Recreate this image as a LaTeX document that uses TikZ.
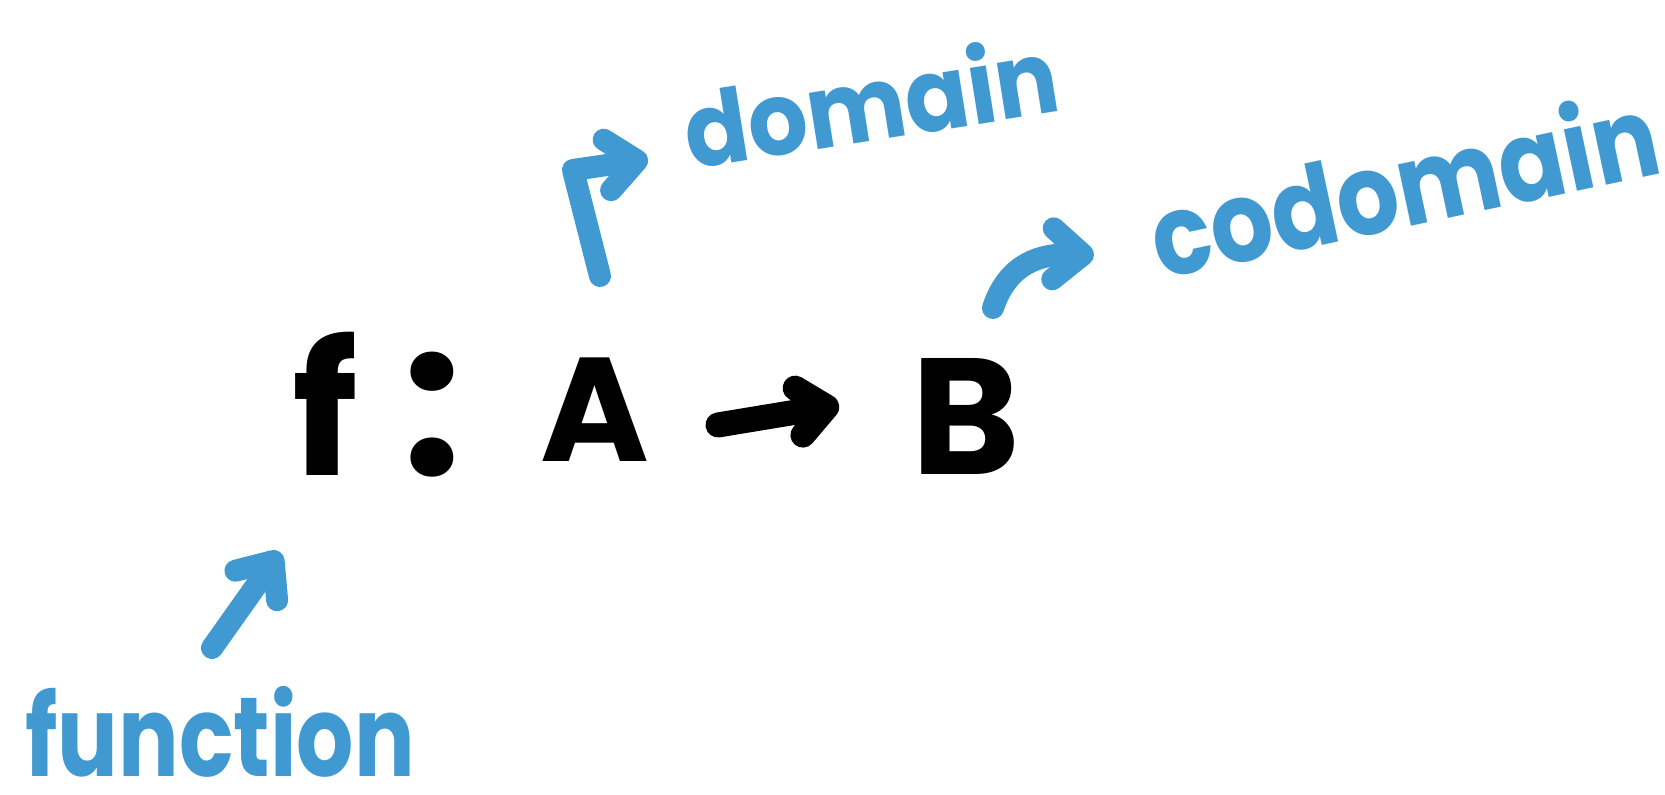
\documentclass[tikz,border=0pt]{standalone}
\usepackage{fontspec}
\usetikzlibrary{arrows.meta}
\newfontfamily\hand{Poppins}[UprightFont={* Bold}]
\definecolor{marker}{RGB}{65,153,210}

\begin{document}
\begin{tikzpicture}[x=0.01cm, y=-0.01cm,
  ink/.style={inner sep=0pt, text=black},
  note/.style={inner sep=0pt, text=marker},
  pen/.style={line width=0.25cm, line cap=round, line join=round},
  barb/.style={-{Straight Barb[length=#1, width=1.7*#1, round]}},
  bluepen/.style={pen, draw=marker, line width=0.22cm, barb=0.3cm},
]
\useasboundingbox (0,0) rectangle (1665,795);

% the statement f : A -> B
\node[ink, anchor=base, font=\hand\fontsize{52}{52}\selectfont] (f) at (325,476) {f};
\node[ink, anchor=base, font=\hand\fontsize{60}{60}\selectfont] (colon) at (432,476) {:};
\node[ink, anchor=base, font=\hand\fontsize{42}{42}\selectfont] (A) at (595,462) {A};
\node[ink, anchor=base, font=\hand\fontsize{47}{47}\selectfont] (B) at (966,475) {B};
\draw[pen, draw=black, barb=0.28cm] ([shift={(123,-37)}]A.base) -- ([shift={(-127,-70)}]B.base);

% annotations
\node[note, anchor=base west, rotate=9, xscale=0.92, font=\hand\fontsize{29}{29}\selectfont] (domain) at (690,170) {domain};
\node[note, anchor=base west, rotate=12, xscale=0.87, font=\hand\fontsize{32}{32}\selectfont] (codomain) at (1160,280) {codomain};
\node[note, anchor=base west, xscale=0.8, font=\hand\fontsize{32}{32}\selectfont] (function) at (25,777) {function};

\draw[bluepen] ([shift={(5,-186)}]A.base) -- ++(-27,-106) -- ([shift={(-42,-11)}]domain.base west);
\draw[bluepen] ([shift={(27,-167)}]B.base) .. controls +(10,-30) and +(-70,-2) .. ([shift={(-66,-25)}]codomain.base west);
\draw[bluepen] ([shift={(187,-129)}]function.base west) -- ([shift={(-45,76)}]f.base);
\end{tikzpicture}
\end{document}
